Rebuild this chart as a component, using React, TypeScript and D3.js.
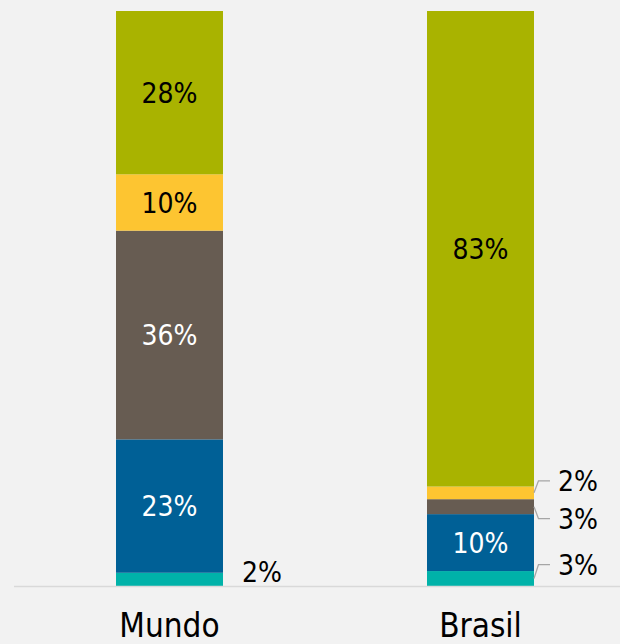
import React, { useEffect, useRef } from 'react';
import * as d3 from 'd3';

// matriz elétrica, participação por fonte (%)
const categories = ['Mundo', 'Brasil'];
const fontes = ['Petróleo', 'Gás natural', 'Carvão', 'Nuclear', 'Renováveis'];
const mundo = [2.3, 23.2, 36.3, 9.8, 28.4];
const brasil = [2.6, 9.9, 2.6, 2.2, 82.7];
const colors = ['#00b2a9', '#006096', '#675c52', '#fdc531', '#a9b300'];
const labelColors = ['#000', '#fff', '#fff', '#000', '#000'];

const W = 620;
const H = 644;
const FONT = "'Liberation Sans Narrow', 'DejaVu Sans Condensed', sans-serif";

// small segments get an outside label: [category, series, label dy from segment centre, leader?]
const outside: [string, string, number, boolean][] = [
  ['Mundo', 'Petróleo', -7, false],
  ['Brasil', 'Nuclear', -12, true],
  ['Brasil', 'Carvão', 12, true],
  ['Brasil', 'Petróleo', -14, true],
];

export default function App() {
  const ref = useRef<SVGSVGElement>(null);

  useEffect(() => {
    const svg = d3.select(ref.current);
    svg.selectAll('*').remove();

    const rows = categories.map((c, i) => {
      const vals = i === 0 ? mundo : brasil;
      const r: any = { cat: c };
      fontes.forEach((f, j) => (r[f] = vals[j]));
      return r;
    });

    const stack = d3.stack<any>().keys(fontes).offset(d3.stackOffsetExpand);
    const series = stack(rows);

    const x = d3.scaleBand().domain(categories).range([14, 636]).paddingInner(0.656).paddingOuter(0.328);
    const y = d3.scaleLinear().domain([0, 1]).range([586, 11]);

    svg.append('rect').attr('width', W).attr('height', H).attr('fill', '#f2f2f2');

    const g = svg.append('g');
    series.forEach((s, si) => {
      g.selectAll(null)
        .data(s)
        .join('rect')
        .attr('x', d => x(d.data.cat)!)
        .attr('y', d => y(d[1]))
        .attr('width', x.bandwidth())
        .attr('height', d => y(d[0]) - y(d[1]))
        .attr('fill', colors[si]);
    });

    // baseline
    svg.append('line')
      .attr('x1', 14).attr('x2', W)
      .attr('y1', y(0) + 0.5).attr('y2', y(0) + 0.5)
      .attr('stroke', '#d9d9d9').attr('stroke-width', 1.5);

    // labels
    series.forEach((s, si) => {
      s.forEach(d => {
        const cat = d.data.cat;
        const v = Math.round(d.data[s.key]);
        const cy = (y(d[0]) + y(d[1])) / 2;
        const o = outside.find(e => e[0] === cat && e[1] === s.key);
        if (!o) {
          g.append('text')
            .attr('x', x(cat)! + x.bandwidth() / 2)
            .attr('y', cy)
            .attr('dy', '0.36em')
            .attr('text-anchor', 'middle')
            .style('font-family', FONT)
            .style('font-size', '28px')
            .attr('fill', labelColors[si])
            .text(v + '%');
          return;
        }
        const x0 = x(cat)! + x.bandwidth();
        const ly = cy + o[2];
        if (o[3]) {
          g.append('path')
            .attr('d', d3.line()([[x0, cy], [x0 + 4.5, ly], [x0 + 16, ly]]))
            .attr('fill', 'none')
            .attr('stroke', '#a6a6a6')
            .attr('stroke-width', 1.3);
        }
        g.append('text')
          .attr('x', x0 + (o[3] ? 24 : 19))
          .attr('y', ly)
          .attr('dy', '0.36em')
          .style('font-family', FONT)
          .style('font-size', '28px')
          .attr('fill', '#000')
          .text(v + '%');
      });
    });

    // category axis
    const axis = svg.append('g').attr('transform', `translate(0,${y(0)})`)
      .call(d3.axisBottom(x).tickSize(0).tickPadding(28));
    axis.select('.domain').remove();
    axis.selectAll('text')
      .style('font-family', FONT)
      .style('font-size', '33px')
      .attr('fill', '#000');
  }, []);

  return (
    <svg ref={ref} width={W} height={H} style={{ position: 'absolute', left: 0, top: 0 }} />
  );
}
